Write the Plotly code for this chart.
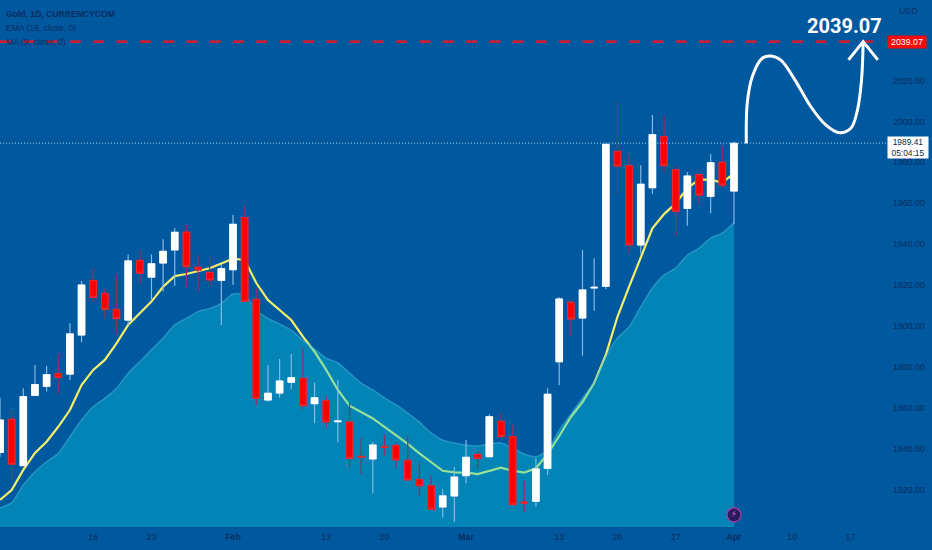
import numpy as np
import plotly.graph_objects as go

tick_pos = [8, 13, 20, 28, 33, 40, 48, 53, 58, 63, 68, 73]
tick_labels = ["16", "23", "<b>Feb</b>", "13", "20", "<b>Mar</b>", "13", "20", "27", "<b>Apr</b>", "10", "17"]
price_ticks = [1820, 1840, 1860, 1880, 1900, 1920, 1940, 1960, 1980, 2000, 2020]

opens = [1838.2,1854.4,1831.7,1866.1,1870.5,1876.7,1876.5,1895.6,1922.3,1916.0,1908.1,1902.9,1932.1,1923.9,1930.8,1937.2,
         1945.9,1928.7,1926.2,1922.3,1927.5,1953.0,1913.0,1863.8,1867.2,1872.5,1874.4,1862.0,1863.5,1853.2,1853.0,1836.2,
         1835.0,1841.1,1841.6,1834.3,1825.0,1821.9,1811.5,1816.9,1826.8,1837.2,1836.1,1853.4,1845.9,1813.9,1814.3,1830.4,
         1882.5,1911.6,1903.9,1918.6,1919.4,1985.4,1978.4,1939.6,1967.6,1992.6,1976.4,1957.5,1974.0,1963.4,1980.0,1966.0]
closes = [1854.0,1832.4,1865.4,1871.3,1876.2,1874.9,1896.1,1920.0,1914.0,1908.1,1903.6,1931.8,1925.8,1930.4,1936.5,1945.8,
          1929.0,1927.4,1922.5,1928.0,1949.7,1912.1,1864.6,1867.1,1873.1,1874.7,1861.0,1864.9,1853.0,1853.5,1835.3,1835.9,
          1841.8,1840.7,1834.5,1824.7,1821.9,1810.4,1816.9,1826.1,1835.8,1835.3,1855.6,1845.9,1812.6,1813.4,1830.1,1866.6,
          1913.2,1903.4,1917.6,1918.9,1988.8,1978.2,1939.7,1969.3,1993.5,1978.4,1956.1,1973.3,1964.0,1979.8,1968.9,1989.3]
highs = [1864.9,1858.9,1869.5,1880.9,1880.6,1886.3,1901.3,1922.0,1928.2,1918.1,1924.9,1935.0,1937.1,1935.0,1942.4,1947.8,
         1949.4,1934.7,1934.2,1929.8,1954.3,1959.2,1918.4,1880.9,1883.8,1886.3,1889.6,1872.3,1865.8,1873.6,1862.2,1845.1,
         1843.4,1846.7,1842.9,1845.9,1833.1,1827.1,1820.1,1831.2,1844.2,1838.9,1856.8,1857.6,1851.6,1824.2,1835.3,1869.5,
         1914.0,1912.7,1937.1,1933.1,1989.0,2009.2,1984.4,1978.6,2003.2,2002.7,1978.2,1975.3,1974.8,1984.1,1987.7,1990.1]
lows = [1836.1,1824.7,1831.7,1866.1,1867.9,1866.7,1873.6,1892.0,1911.9,1903.7,1896.4,1900.5,1920.5,1913.0,1916.8,1919.7,
        1918.9,1916.8,1920.0,1900.5,1920.0,1912.1,1861.4,1863.0,1864.9,1869.0,1859.3,1852.4,1850.4,1843.1,1830.9,1827.6,
        1818.2,1836.9,1830.4,1824.7,1817.0,1810.0,1806.2,1804.3,1823.1,1829.6,1836.1,1845.9,1812.6,1809.2,1811.6,1827.1,
        1871.1,1895.2,1885.5,1907.5,1917.9,1964.9,1935.5,1935.5,1964.5,1975.1,1944.0,1949.0,1959.2,1955.1,1967.3,1949.7]
ema = [1814.9,1819.8,1829.6,1837.9,1843.4,1850.7,1858.9,1871.1,1878.5,1883.4,1891.5,1900.5,1906.2,1911.9,1919.2,1924.4,
       1925.4,1926.7,1928.2,1930.6,1932.9,1932.3,1921.0,1912.7,1907.8,1902.9,1894.8,1887.4,1878.5,1868.7,1861.0,1858.1,
       1854.8,1850.7,1846.7,1842.3,1837.7,1833.6,1829.2,1828.4,1828.3,1827.6,1829.2,1830.7,1829.2,1828.3,1830.4,1837.3,
       1846.2,1855.5,1862.8,1872.1,1885.8,1904.5,1919.2,1933.9,1947.7,1954.7,1960.0,1967.3,1971.7,1971.4,1970.1,1974.6]
ma = [1811.0,1813.6,1822.2,1828.7,1833.6,1837.7,1845.8,1854.0,1860.5,1864.6,1869.5,1876.9,1882.5,1888.3,1894.0,1900.5,
      1903.7,1907.0,1908.6,1911.1,1915.6,1915.2,1907.8,1903.7,1901.0,1898.0,1893.1,1888.7,1884.3,1881.9,1877.0,1872.1,
      1868.7,1864.8,1861.4,1857.4,1853.0,1847.7,1844.2,1842.8,1841.8,1841.3,1842.3,1842.8,1840.3,1837.4,1836.1,1839.3,
      1849.1,1856.9,1864.8,1872.6,1885.0,1894.1,1899.6,1909.4,1918.6,1924.9,1928.3,1934.7,1938.1,1943.0,1945.5,1950.5]

target_price = 2039.07
last_price = 1989.41
curve_x = [64.06,64.14,64.57,65.43,66.15,67.0,68.15,69.6,70.88,72.02,73.03,73.6,73.95,74.09]
curve_y = [1989.3,2009.0,2021.9,2030.9,2032.0,2030.1,2021.1,2007.2,1998.3,1994.5,1996.7,2005.6,2020.3,2039.0]
arrow_x = [72.83,74.09,75.35]
arrow_y = [2030.1,2039.07,2030.1]

x_range = [0.0, 76.05]
y_range = [1801.7, 2059.4]
idx = list(range(len(opens)))
BG = "#00589e"
INK = "#0a2d5e"
F = "Liberation Sans"
PW, PH = 886, 527

def X(px):
    return px / PW

def Y(py):
    return 1 - py / PH

fig = go.Figure()
fig.add_trace(go.Scatter(x=idx, y=ema, mode="lines", line=dict(color="#f5f06a", width=2.2), hoverinfo="skip"))
fig.add_trace(go.Scatter(x=idx, y=ma, mode="lines", fill="tozeroy", fillcolor="rgba(7,201,220,0.40)",
                         line=dict(color="rgba(70,185,220,0.5)", width=1.5, shape="spline", smoothing=0.7), hoverinfo="skip"))
fig.add_trace(go.Candlestick(x=idx, open=opens, high=highs, low=lows, close=closes, xaxis="x2", yaxis="y2",
                             increasing=dict(line=dict(color="#86b8e6", width=1.2), fillcolor="#ffffff"),
                             decreasing=dict(line=dict(color="#8f3060", width=1.2), fillcolor="#ff0000"),
                             hoverinfo="skip"))
fig.add_trace(go.Candlestick(x=idx, open=opens, close=closes,
                             high=np.maximum(opens, closes), low=np.minimum(opens, closes), xaxis="x2", yaxis="y2",
                             increasing=dict(line=dict(color="#ffffff", width=1), fillcolor="#ffffff"),
                             decreasing=dict(line=dict(color="#f02a30", width=1), fillcolor="#ff0000"),
                             hoverinfo="skip"))
fig.add_trace(go.Scatter(x=x_range, y=[last_price, last_price], mode="lines", xaxis="x2", yaxis="y2",
                         line=dict(color="#a8d8f5", width=1, dash="1px,2px"), hoverinfo="skip"))
fig.add_trace(go.Scatter(x=x_range, y=[target_price, target_price], mode="lines", xaxis="x2", yaxis="y2",
                         line=dict(color="#c8203a", width=2.6, dash="11px,12.3px"), hoverinfo="skip"))
fig.add_trace(go.Scatter(x=curve_x, y=curve_y, mode="lines", xaxis="x2", yaxis="y2",
                         line=dict(color="#ffffff", width=3, shape="spline"), hoverinfo="skip"))
fig.add_trace(go.Scatter(x=arrow_x, y=arrow_y, mode="lines", xaxis="x2", yaxis="y2",
                         line=dict(color="#ffffff", width=3), hoverinfo="skip"))
fig.add_trace(go.Scatter(x=[63], y=[1807.6], mode="markers+text", xaxis="x2", yaxis="y2",
                         marker=dict(size=14, color="#2a1a5c", line=dict(color="#b23bb0", width=1.2)),
                         text=["⚡"], textposition="middle center",
                         textfont=dict(family="DejaVu Sans", size=9, color="#d66ad6"), hoverinfo="skip"))

axis_common = dict(showgrid=False, zeroline=False, showline=False, ticks="", tickfont=dict(family=F, size=8.8, color=INK))
fig.update_layout(
    width=932, height=550, autosize=False, showlegend=False,
    paper_bgcolor=BG, plot_bgcolor=BG,
    margin=dict(l=0, r=46, t=0, b=23),
    boxgap=0.2,
    xaxis=dict(range=x_range, tickmode="array", tickvals=tick_pos, ticktext=tick_labels, ticklabelstandoff=3, **axis_common),
    yaxis=dict(range=y_range, side="right", tickmode="array", tickvals=price_ticks,
               ticktext=[f"{p:.2f}" for p in price_ticks], ticklabelstandoff=6, **axis_common),
    xaxis2=dict(range=x_range, overlaying="x", anchor="y2", visible=False, rangeslider=dict(visible=False)),
    yaxis2=dict(range=y_range, overlaying="y", anchor="x2", visible=False),
    annotations=[
        dict(xref="paper", yref="paper", x=X(4), y=Y(13.5), text="<b>Gold, 1D, CURRENCYCOM</b>", showarrow=False,
             xanchor="left", yanchor="middle", font=dict(family=F, size=8.6, color=INK)),
        dict(xref="paper", yref="paper", x=X(4), y=Y(28), text="EMA (16, close, 0)", showarrow=False,
             xanchor="left", yanchor="middle", font=dict(family=F, size=8.6, color=INK)),
        dict(xref="paper", yref="paper", x=X(4), y=Y(42), text="MA (9, close, 0)", showarrow=False,
             xanchor="left", yanchor="middle", font=dict(family=F, size=8.6, color=INK)),
        dict(xref="paper", yref="paper", x=X(844.5), y=Y(26), text="<b>2039.07</b>", showarrow=False,
             xanchor="center", yanchor="middle", font=dict(family="Roboto", size=20, color="#ffffff")),
        dict(xref="paper", yref="paper", x=X(908), y=Y(11), text="USD", showarrow=False,
             xanchor="center", yanchor="middle", font=dict(family=F, size=8.8, color=INK)),
        dict(xref="paper", yref="paper", x=X(907), y=Y(42), text="2039.07", showarrow=False, width=38, height=12,
             xanchor="center", yanchor="middle", bgcolor="#f50a0a", borderpad=0,
             font=dict(family=F, size=8.8, color="#ffffff")),
        dict(xref="paper", yref="paper", x=X(908.5), y=Y(147), text="1989.41<br>05:04:15", showarrow=False, width=40, height=21,
             xanchor="center", yanchor="middle", bgcolor="#ffffff", borderpad=0,
             font=dict(family=F, size=8.4, color="#14284a")),
    ],
)
fig.write_html("out.html", config={"displayModeBar": False}, post_script="document.body.style.margin='0';")
